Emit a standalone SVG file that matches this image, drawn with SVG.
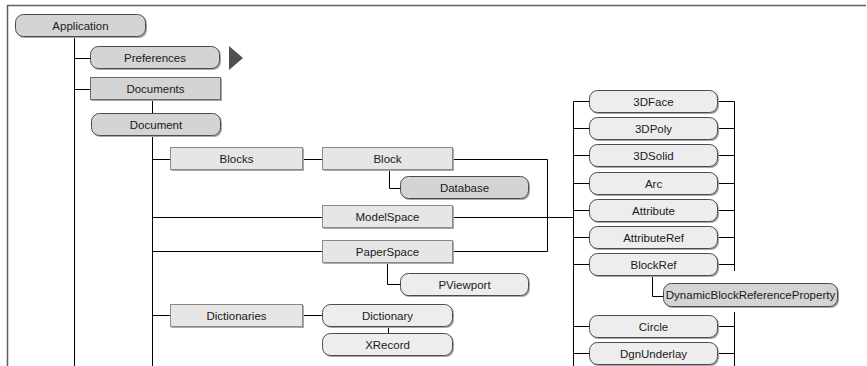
<svg xmlns="http://www.w3.org/2000/svg" width="867" height="366" viewBox="0 0 867 366">
<style>
text{font-family:"Liberation Sans",Arial,sans-serif;font-size:11.5px;fill:#1a1a1a;text-anchor:middle;dominant-baseline:central}
.sh{fill:#a8a8a8;stroke:none}
.rg{fill:#d4d4d4;stroke:#4a4a4a;stroke-width:1}
.rw{fill:#ededed;stroke:#4a4a4a;stroke-width:1}
.bg{fill:#d4d4d4;stroke:#6a6a6a;stroke-width:1}
.bl{fill:#e6e6e6;stroke:#8a8a8a;stroke-width:1}
.c{fill:none;stroke:#000;stroke-width:1}
.frame{fill:none;stroke:#606060;stroke-width:1.5}
</style>
<rect width="867" height="366" fill="#fff"/>
<path class="frame" d="M7.5,366 V5.5 H866"/>
<g id="connectors">
<path class="c" d="M74.5,37 V366"/>
<path class="c" d="M74.5,58.5 H90 M74.5,89.5 H90"/>
<path class="c" d="M152.5,100 V113 M152.5,136 V366"/>
<path class="c" d="M152.5,159.5 H170 M303,159.5 H322"/>
<path class="c" d="M453,159.5 H547.5 V251.5 H453"/>
<path class="c" d="M389.5,170 V188.5 H400"/>
<path class="c" d="M152.5,217.5 H322 M453,217.5 H573.5"/>
<path class="c" d="M152.5,251.5 H322"/>
<path class="c" d="M387.5,263 V284.5 H400"/>
<path class="c" d="M152.5,315.5 H170 M303,315.5 H322"/>
<path class="c" d="M388.5,327 V333"/>
<path class="c" d="M573.5,101.5 V366"/>
<path class="c" d="M734.5,101.5 V271 M734.5,312 V366"/>
<path class="c" d="M573.5,101.5 H589 M573.5,128.5 H589 M573.5,155.5 H589 M573.5,183.5 H589 M573.5,210.5 H589 M573.5,237.5 H589 M573.5,264.5 H589 M573.5,326.5 H589 M573.5,353.5 H589"/>
<path class="c" d="M718,101.5 H734.5 M718,128.5 H734.5 M718,155.5 H734.5 M718,183.5 H734.5 M718,210.5 H734.5 M718,237.5 H734.5 M718,264.5 H734.5 M718,326.5 H734.5 M718,353.5 H734.5"/>
<path class="c" d="M652.5,276 V296.5 H663"/>
</g>
<g id="n-application"><rect class="sh" x="16.5" y="15.5" width="130.5" height="22.5" rx="8"/><rect class="rg" x="15.5" y="14.5" width="130" height="22" rx="8"/><text x="80.5" y="25.5">Application</text></g>
<g id="n-preferences"><rect class="sh" x="91.5" y="47.5" width="129.5" height="22.5" rx="8"/><rect class="rg" x="90.5" y="46.5" width="129" height="22" rx="8"/><text x="155" y="57.5">Preferences</text></g>
<g id="n-more"><polygon points="229,46 243,58 229,70" fill="#505050"/></g>
<g id="n-documents"><rect class="sh" x="91.5" y="78.5" width="130.5" height="22.5"/><rect class="bg" x="90.5" y="77.5" width="130" height="22"/><text x="155.5" y="88.5">Documents</text></g>
<g id="n-document"><rect class="sh" x="92.5" y="114.5" width="129.5" height="22.5" rx="8"/><rect class="rg" x="91.5" y="113.5" width="129" height="22" rx="8"/><text x="156" y="124.5">Document</text></g>
<g id="n-blocks"><rect class="sh" x="171.5" y="148.5" width="132.5" height="22.5"/><rect class="bl" x="170.5" y="147.5" width="132" height="22"/><text x="236.5" y="158.5">Blocks</text></g>
<g id="n-block"><rect class="sh" x="323.5" y="148.5" width="130.5" height="22.5"/><rect class="bl" x="322.5" y="147.5" width="130" height="22"/><text x="387.5" y="158.5">Block</text></g>
<g id="n-database"><rect class="sh" x="401.5" y="177.5" width="128.5" height="22.5" rx="8"/><rect class="rg" x="400.5" y="176.5" width="128" height="22" rx="8"/><text x="464.5" y="187.5">Database</text></g>
<g id="n-modelspace"><rect class="sh" x="323.5" y="206.5" width="130.5" height="22.5"/><rect class="bl" x="322.5" y="205.5" width="130" height="22"/><text x="387.5" y="216.5">ModelSpace</text></g>
<g id="n-paperspace"><rect class="sh" x="323.5" y="241.5" width="130.5" height="22.5"/><rect class="bl" x="322.5" y="240.5" width="130" height="22"/><text x="387.5" y="251.5">PaperSpace</text></g>
<g id="n-pviewport"><rect class="sh" x="401.5" y="274.5" width="128.5" height="22.5" rx="8"/><rect class="rw" x="400.5" y="273.5" width="128" height="22" rx="8"/><text x="464.5" y="284.5">PViewport</text></g>
<g id="n-dictionaries"><rect class="sh" x="171.5" y="305.5" width="132.5" height="22.5"/><rect class="bl" x="170.5" y="304.5" width="132" height="22"/><text x="236.5" y="315.5">Dictionaries</text></g>
<g id="n-dictionary"><rect class="sh" x="323.5" y="305.5" width="130.5" height="22.5" rx="8"/><rect class="rw" x="322.5" y="304.5" width="130" height="22" rx="8"/><text x="387.5" y="315.5">Dictionary</text></g>
<g id="n-xrecord"><rect class="sh" x="323.5" y="334.5" width="130.5" height="22.5" rx="8"/><rect class="rw" x="322.5" y="333.5" width="130" height="22" rx="8"/><text x="387.5" y="344.5">XRecord</text></g>
<g id="n-3dface"><rect class="sh" x="590.5" y="91.5" width="128.5" height="22.5" rx="8"/><rect class="rw" x="589.5" y="90.5" width="128" height="22" rx="8"/><text x="653.5" y="101.5">3DFace</text></g>
<g id="n-3dpoly"><rect class="sh" x="590.5" y="118.5" width="128.5" height="22.5" rx="8"/><rect class="rw" x="589.5" y="117.5" width="128" height="22" rx="8"/><text x="653.5" y="128.5">3DPoly</text></g>
<g id="n-3dsolid"><rect class="sh" x="590.5" y="145.5" width="128.5" height="22.5" rx="8"/><rect class="rw" x="589.5" y="144.5" width="128" height="22" rx="8"/><text x="653.5" y="155.5">3DSolid</text></g>
<g id="n-arc"><rect class="sh" x="590.5" y="173.5" width="128.5" height="22.5" rx="8"/><rect class="rw" x="589.5" y="172.5" width="128" height="22" rx="8"/><text x="653.5" y="183.5">Arc</text></g>
<g id="n-attribute"><rect class="sh" x="590.5" y="200.5" width="128.5" height="22.5" rx="8"/><rect class="rw" x="589.5" y="199.5" width="128" height="22" rx="8"/><text x="653.5" y="210.5">Attribute</text></g>
<g id="n-attributeref"><rect class="sh" x="590.5" y="227.5" width="128.5" height="22.5" rx="8"/><rect class="rw" x="589.5" y="226.5" width="128" height="22" rx="8"/><text x="653.5" y="237.5">AttributeRef</text></g>
<g id="n-blockref"><rect class="sh" x="590.5" y="254.5" width="128.5" height="22.5" rx="8"/><rect class="rw" x="589.5" y="253.5" width="128" height="22" rx="8"/><text x="653.5" y="264.5">BlockRef</text></g>
<g id="n-dynamic"><rect class="sh" x="664.5" y="284.5" width="174.5" height="23.5" rx="8"/><rect class="rg" x="663.5" y="283.5" width="174" height="23" rx="8"/><text x="750.5" y="295">DynamicBlockReferenceProperty</text></g>
<g id="n-circle"><rect class="sh" x="590.5" y="316.5" width="128.5" height="22.5" rx="8"/><rect class="rw" x="589.5" y="315.5" width="128" height="22" rx="8"/><text x="653.5" y="326.5">Circle</text></g>
<g id="n-dgnunderlay"><rect class="sh" x="590.5" y="343.5" width="128.5" height="22.5" rx="8"/><rect class="rw" x="589.5" y="342.5" width="128" height="22" rx="8"/><text x="653.5" y="353.5">DgnUnderlay</text></g>
</svg>
